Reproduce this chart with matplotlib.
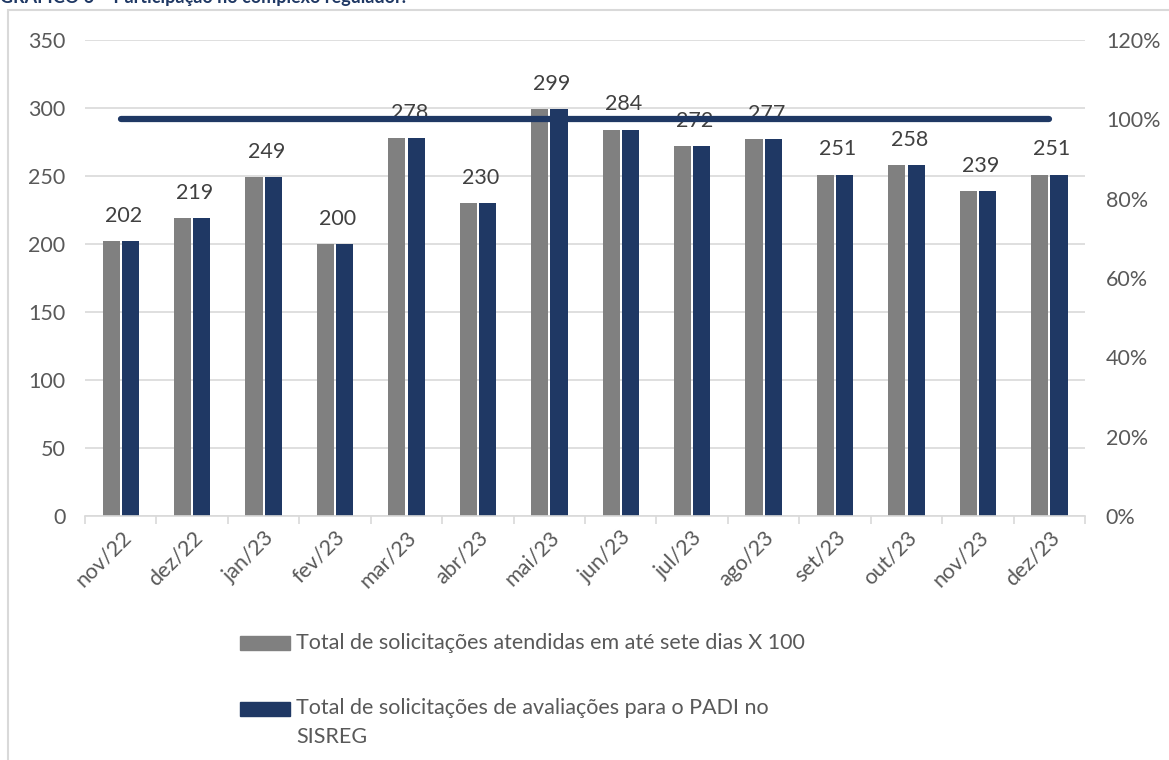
import matplotlib
matplotlib.use("Agg")
import matplotlib.pyplot as plt
from matplotlib.patches import Rectangle
import numpy as np

months = ["nov/22", "dez/22", "jan/23", "fev/23", "mar/23", "abr/23", "mai/23",
          "jun/23", "jul/23", "ago/23", "set/23", "out/23", "nov/23", "dez/23"]
atendidas_x100 = [202, 219, 249, 200, 278, 230, 299, 284, 272, 277, 251, 258, 239, 251]
solicitacoes = [202, 219, 249, 200, 278, 230, 299, 284, 272, 277, 251, 258, 239, 251]
participacao = [1.0] * 14
left_ticks = [0, 50, 100, 150, 200, 250, 300, 350]
right_ticks = [0, 0.2, 0.4, 0.6, 0.8, 1.0, 1.2]

GRAY = "#808080"
NAVY = "#1F3864"
TXT = "#595959"
GRID = "#D9D9D9"

plt.rcParams['font.family'] = ['Lato', 'DejaVu Sans']
FS = 15.5

W, H = 1169, 760
fig = plt.figure(figsize=(W / 100, H / 100), dpi=100)

# outer frame
fig.patches.append(Rectangle((8 / W, -0.05), 1.2, 1 - 10 / H + 0.05, transform=fig.transFigure,
                             fill=False, edgecolor="#D9D9D9", linewidth=1.5))
# cut-off title (as in the source image)
fig.text(0.0, 1 + 4 / H, "GRÁFICO 6 – Participação no complexo regulador.", color=NAVY,
         fontsize=13, fontweight="bold", ha="left", va="center")

ax = fig.add_axes([85 / W, 1 - 516 / H, 1000 / W, 476 / H])
x = np.arange(len(months))
bw = 0.24
off = 0.135
ax.bar(x - off, atendidas_x100, bw, color=GRAY, zorder=2)
ax.bar(x + off, solicitacoes, bw, color=NAVY, zorder=2)
for xi, v in zip(x, atendidas_x100):
    ax.annotate(str(v), (xi, v), xytext=(2, 11), textcoords="offset points",
                ha="center", va="bottom", fontsize=FS, color="#404040", zorder=5)

ax.set_xlim(-0.5, len(months) - 0.5)
ax.set_ylim(0, 350)
ax.set_yticks(left_ticks)
ax.yaxis.grid(True, color=GRID, linewidth=1.2, zorder=0)
ax.set_axisbelow(True)
for s in ["top", "right", "left"]:
    ax.spines[s].set_visible(False)
ax.spines["bottom"].set_color(GRID)
ax.spines["bottom"].set_linewidth(1.2)
ax.tick_params(axis="y", length=0, labelsize=FS, labelcolor=TXT, pad=14)
ax.set_xticks(np.arange(-0.5, len(months), 1), minor=False)
ax.set_xticklabels([])
ax.tick_params(axis="x", which="major", length=6, color=GRID, width=1.2, direction="out")
ax.set_xticks(x, minor=True)
ax.set_xticklabels(months, minor=True, rotation=45, ha="right", va="top",
                   rotation_mode="anchor", fontsize=FS, color=TXT)
ax.tick_params(axis="x", which="minor", length=0, pad=8)

ax2 = ax.twinx()
ax2.plot(x, participacao, color=NAVY, linewidth=4.5, solid_capstyle="round", zorder=6)
ax2.set_ylim(0, 1.2)
ax2.set_yticks(right_ticks)
ax2.set_yticklabels([f"{int(round(t * 100))}%" for t in right_ticks])
ax2.tick_params(axis="y", length=0, labelsize=FS, labelcolor=TXT, pad=15)
for s in ax2.spines.values():
    s.set_visible(False)

# legend
fig.patches.append(Rectangle((240 / W, 1 - 650 / H), 50 / W, 14 / H, transform=fig.transFigure,
                             color=GRAY))
fig.text(296 / W, 1 - 643 / H, "Total de solicitações atendidas em até sete dias X 100",
         fontsize=FS, color=TXT, ha="left", va="center")
fig.patches.append(Rectangle((240 / W, 1 - 716 / H), 50 / W, 14 / H, transform=fig.transFigure,
                             color=NAVY))
fig.text(296 / W, 1 - 708 / H, "Total de solicitações de avaliações para o PADI no",
         fontsize=FS, color=TXT, ha="left", va="center")
fig.text(296 / W, 1 - 737 / H, "SISREG", fontsize=FS, color=TXT, ha="left", va="center")

fig.savefig("out.png", dpi=100)
